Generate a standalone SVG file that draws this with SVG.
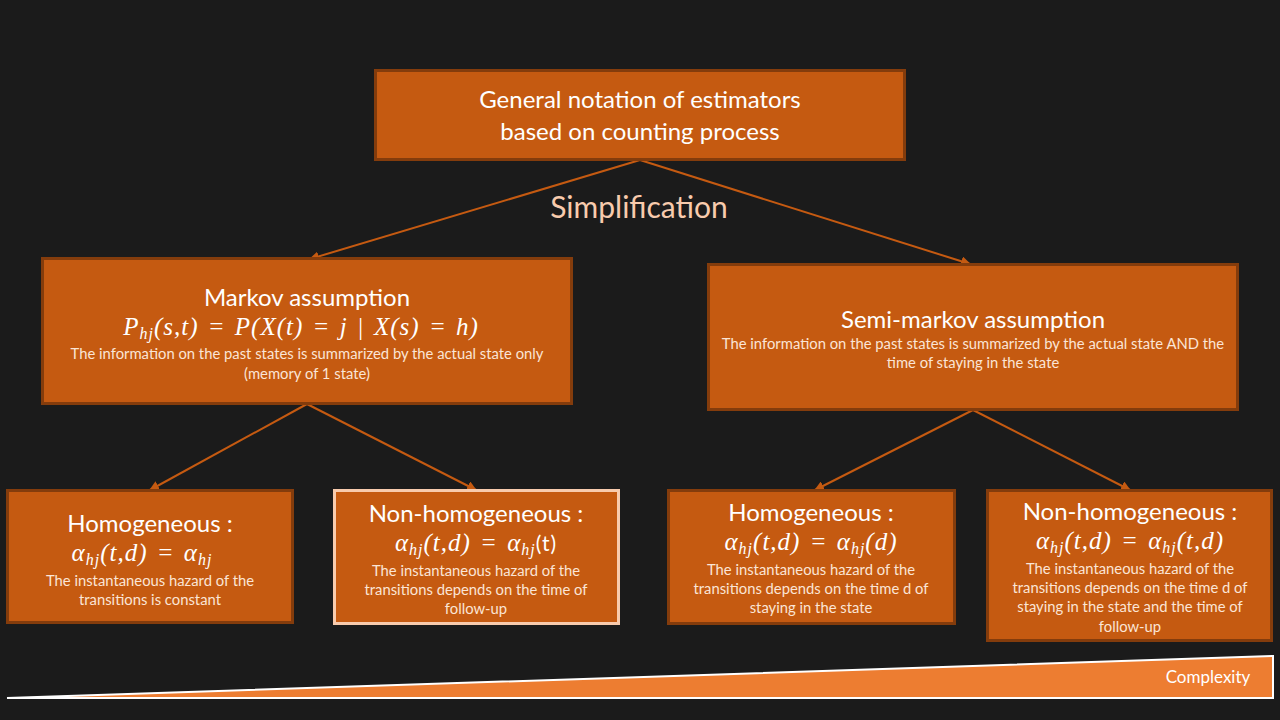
<svg xmlns="http://www.w3.org/2000/svg" width="1280" height="720" viewBox="0 0 1280 720">
<defs>
<style>
.box{fill:#c55a11;stroke:#843c0c;stroke-width:3}
.hl{stroke:#f8cbad}
.t{font-family:Lato,"Open Sans",sans-serif;fill:#ffffff;text-anchor:middle}
.title{font-size:24px}
.body{font-size:14.8px;fill:#fbe5d6}
.m{font-family:"Liberation Serif","DejaVu Serif",serif;font-style:italic;font-size:25px;letter-spacing:1px;word-spacing:2px;fill:#ffffff;text-anchor:middle}
.sub{font-size:16px}
.conn{stroke:#c55a11;stroke-width:2;fill:none}
</style>
<marker id="ah" viewBox="0 0 10 10" refX="9" refY="5" markerWidth="5" markerHeight="5" orient="auto-start-reverse" markerUnits="strokeWidth">
<path d="M0,0 L10,5 L0,10 z" fill="#c55a11"/>
</marker>
</defs>
<rect width="1280" height="720" fill="#1b1b1b"/>

<g id="connectors">
<line class="conn" x1="640" y1="160" x2="310" y2="259" marker-end="url(#ah)"/>
<line class="conn" x1="640" y1="160" x2="970" y2="264" marker-end="url(#ah)"/>
<line class="conn" x1="307" y1="404" x2="150" y2="490" marker-end="url(#ah)"/>
<line class="conn" x1="307" y1="404" x2="476" y2="490" marker-end="url(#ah)"/>
<line class="conn" x1="973" y1="410" x2="815" y2="490" marker-end="url(#ah)"/>
<line class="conn" x1="973" y1="410" x2="1130" y2="490" marker-end="url(#ah)"/>
</g>

<text x="639" y="218" font-family="Lato,'Open Sans',sans-serif" font-size="30" fill="#f8cbad" text-anchor="middle">Simplification</text>

<g id="general">
<rect class="box" x="375.5" y="70.5" width="529" height="89"/>
<text class="t title" x="640" y="108">General notation of estimators</text>
<text class="t title" x="640" y="140">based on counting process</text>
</g>

<g id="markov">
<rect class="box" x="42.5" y="258.5" width="529" height="145"/>
<text class="t title" x="307" y="306">Markov assumption</text>
<text class="m" x="301" y="335">P<tspan class="sub" dy="4">hj</tspan><tspan dy="-4">(s,t) = P(X(t) = j | X(s) = h)</tspan></text>
<text class="t body" x="307" y="359">The information on the past states is summarized by the actual state only</text>
<text class="t body" x="307" y="379">(memory of 1 state)</text>
</g>

<g id="semimarkov">
<rect class="box" x="708.5" y="264.5" width="529" height="145"/>
<text class="t title" x="973" y="328">Semi-markov assumption</text>
<text class="t body" x="973" y="349">The information on the past states is summarized by the actual state AND the</text>
<text class="t body" x="973" y="368">time of staying in the state</text>
</g>

<g id="homog1">
<rect class="box" x="7.5" y="490.5" width="285" height="132"/>
<text class="t title" x="150" y="532">Homogeneous :</text>
<text class="m" x="142" y="561">α<tspan class="sub" dy="4">hj</tspan><tspan dy="-4">(t,d) =  α</tspan><tspan class="sub" dy="4">hj</tspan></text>
<text class="t body" x="150" y="586">The instantaneous hazard of the</text>
<text class="t body" x="150" y="605">transitions is constant</text>
</g>

<g id="nonhomog1">
<rect class="box hl" x="334.5" y="490.5" width="284" height="133"/>
<text class="t title" x="476" y="522">Non-homogeneous :</text>
<text class="m" x="476" y="551">α<tspan class="sub" dy="4">hj</tspan><tspan dy="-4">(t,d) =  α</tspan><tspan class="sub" dy="4">hj</tspan><tspan dy="-4" font-style="normal" font-family="Lato,sans-serif" font-size="21">(t)</tspan></text>
<text class="t body" x="476" y="576">The instantaneous hazard of the</text>
<text class="t body" x="476" y="595">transitions depends on the time of</text>
<text class="t body" x="476" y="614">follow-up</text>
</g>

<g id="homog2">
<rect class="box" x="668.5" y="490.5" width="286" height="133"/>
<text class="t title" x="811" y="521">Homogeneous :</text>
<text class="m" x="811" y="550">α<tspan class="sub" dy="4">hj</tspan><tspan dy="-4">(t,d) =  α</tspan><tspan class="sub" dy="4">hj</tspan><tspan dy="-4">(d)</tspan></text>
<text class="t body" x="811" y="575">The instantaneous hazard of the</text>
<text class="t body" x="811" y="594">transitions depends on the time d of</text>
<text class="t body" x="811" y="613">staying in the state</text>
</g>

<g id="nonhomog2">
<rect class="box" x="987.5" y="490.5" width="284" height="150"/>
<text class="t title" x="1130" y="520">Non-homogeneous :</text>
<text class="m" x="1130" y="549">α<tspan class="sub" dy="4">hj</tspan><tspan dy="-4">(t,d) =  α</tspan><tspan class="sub" dy="4">hj</tspan><tspan dy="-4">(t,d)</tspan></text>
<text class="t body" x="1130" y="574">The instantaneous hazard of the</text>
<text class="t body" x="1130" y="593">transitions depends on the time d of</text>
<text class="t body" x="1130" y="612">staying in the state and the time of</text>
<text class="t body" x="1130" y="632">follow-up</text>
</g>

<g id="complexity">
<polygon points="7,698 1273,656 1273,698" fill="#ed7d31" stroke="#ffffff" stroke-width="2"/>
<text x="1208" y="683" font-family="Lato,'Open Sans',sans-serif" font-size="17" fill="#ffffff" text-anchor="middle">Complexity</text>
</g>
</svg>
